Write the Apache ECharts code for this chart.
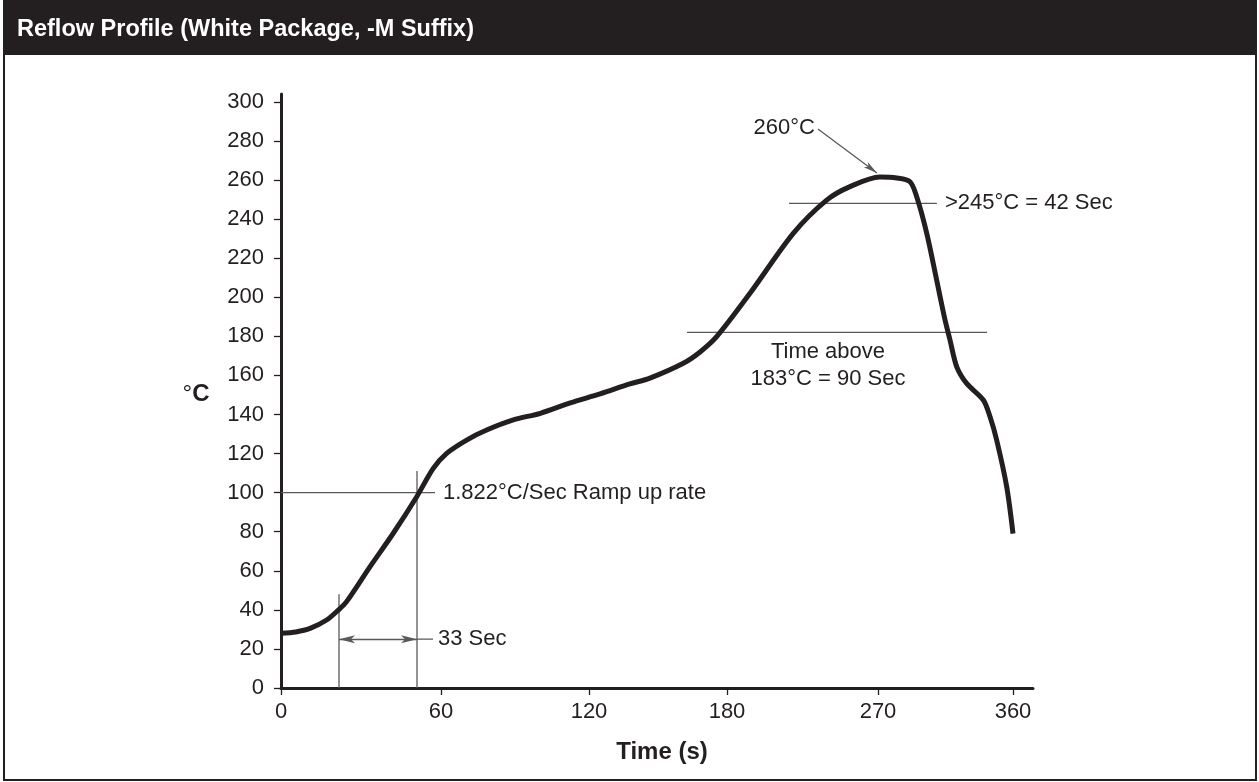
<!DOCTYPE html>
<html><head><meta charset="utf-8">
<script src="https://cdn.jsdelivr.net/npm/echarts@6/dist/echarts.min.js"></script>
<style>html,body{margin:0;padding:0;background:#fff}#c{width:1259px;height:782px}</style>
</head><body><div id="c"></div>
<script>
// ---------- data ----------
const chartTitle = 'Reflow Profile (White Package, -M Suffix)';
const xTickSeconds = [0, 60, 120, 180, 270, 360];
const xTickLabels = ['0', '60', '120', '180', '270', '360'];
const yTickValues = [0, 20, 40, 60, 80, 100, 120, 140, 160, 180, 200, 220, 240, 260, 280, 300];
const timeSec = [0, 5.6, 10.9, 17.1, 21.5, 24.6, 33.4, 42.1, 50.9, 57.1, 62.3, 70.4, 78.5, 89.3, 100.3,
  112.4, 124.8, 137.8, 146.5, 161.0, 168.3, 175.5, 193.7, 219.5, 239.4, 253.3, 271.3, 282.5, 291.3,
  295.8, 302.5, 309.1, 314.7, 318.0, 322.5, 329.1, 340.2, 344.7, 349.1, 355.8, 360];
const tempC = [28, 28.7, 30.5, 34.8, 39.9, 44.2, 62.1, 79.2, 97.9, 112.4, 120.1, 126.9, 132.0, 137.2, 140.6,
  145.9, 150.5, 155.6, 158.6, 166.2, 172.0, 179.8, 202.0, 232.7, 249.7, 256.6, 261.5, 261, 259.1,
  251.4, 232.7, 208.8, 188.3, 178.1, 164.4, 155.9, 147.4, 138.8, 126.9, 103.0, 79];
// annotation values (seconds, °C)
const rampStartSec = 21.75, rampEndSec = 51, rampLevel = 100, rampLineEndSec = 57.75;
const rampLowTop = 48, rampHighTop = 111, spanArrowTemp = 25, spanLineEndSec = 57;
const above183Temp = 182, above183From = 162.6, above183To = 342.7, above183LabelSec = 240.2;
const above245Temp = 248, above245From = 217, above245To = 309.3;
const peakArrowFrom = [234.2, 286.1], peakArrowTo = [269.4, 263.6];
const labelRamp = '1.822°C/Sec Ramp up rate';
const labelSpan = '33 Sec';
const label245 = '>245°C = 42 Sec';
const label183 = 'Time above\n183°C = 90 Sec';
const labelPeak = '260°C';

// ---------- axis layout (hand-drawn, uneven tick spacing) ----------
const tickOffsets = [0, 160, 308, 446, 597, 732];
const axisMaxUnits = 752;
function toAxis(t) {
  const n = xTickSeconds.length;
  let i = 0;
  while (i < n - 2 && t > xTickSeconds[i + 1]) i++;
  const s0 = xTickSeconds[i], s1 = xTickSeconds[i + 1];
  return tickOffsets[i] + (t - s0) / (s1 - s0) * (tickOffsets[i + 1] - tickOffsets[i]);
}

const INK = '#231f20', GREY = '#58595b';
const FONT = '"Liberation Sans", Arial, Helvetica, sans-serif';

function seg(a, b) {
  return {
    type: 'line', silent: true, symbol: 'none', z: 3,
    lineStyle: { width: 1.3, color: GREY },
    data: [[toAxis(a[0]), a[1]], [toAxis(b[0]), b[1]]]
  };
}

const chart = echarts.init(document.getElementById('c'), null, { renderer: 'canvas' });
const option = {
  animation: false,
  backgroundColor: '#fff',
  grid: { left: 281, right: 226, top: 94, bottom: 94 },
  xAxis: {
    type: 'value', min: 0, max: axisMaxUnits,
    splitLine: { show: false },
    axisLine: { lineStyle: { color: INK, width: 3 } },
    axisTick: { customValues: xTickSeconds.map(toAxis), length: 7, lineStyle: { color: INK, width: 1.3 } },
    axisLabel: {
      customValues: xTickSeconds.map(toAxis), margin: 13, fontSize: 22, color: INK, fontFamily: FONT,
      formatter: v => {
        let best = 0;
        tickOffsets.forEach((o, i) => { if (Math.abs(o - v) < Math.abs(tickOffsets[best] - v)) best = i; });
        return xTickLabels[best];
      }
    }
  },
  yAxis: {
    type: 'value', min: 0, max: 304,
    splitLine: { show: false },
    axisLine: { lineStyle: { color: INK, width: 3 } },
    axisTick: { customValues: yTickValues, length: 7, lineStyle: { color: INK, width: 1.3 } },
    axisLabel: { customValues: yTickValues, margin: 17, fontSize: 22, color: INK, fontFamily: FONT }
  },
  series: [
    seg([0, rampLevel], [rampLineEndSec, rampLevel]),
    seg([rampStartSec, 0], [rampStartSec, rampLowTop]),
    seg([rampEndSec, 0], [rampEndSec, rampHighTop]),
    seg([rampEndSec, spanArrowTemp], [spanLineEndSec, spanArrowTemp]),
    seg([above183From, above183Temp], [above183To, above183Temp]),
    seg([above245From, above245Temp], [above245To, above245Temp]),
    {
      type: 'line', data: [], silent: true,
      markLine: {
        silent: true, animation: false, label: { show: false },
        lineStyle: { type: 'solid', color: GREY, width: 1.3 },
        data: [
          [{ coord: [toAxis(rampStartSec), spanArrowTemp], symbol: 'arrow', symbolSize: [6, 16] },
           { coord: [toAxis(rampEndSec), spanArrowTemp], symbol: 'arrow', symbolSize: [6, 16] }],
          [{ coord: [toAxis(peakArrowFrom[0]), peakArrowFrom[1]], symbol: 'none' },
           { coord: [toAxis(peakArrowTo[0]), peakArrowTo[1]], symbol: 'arrow', symbolSize: [5, 14] }]
        ]
      }
    },
    {
      type: 'line', name: 'profile', z: 5, smooth: 0.3, symbol: 'none',
      lineStyle: { width: 5, color: INK, cap: 'butt', join: 'round' },
      data: timeSec.map((t, i) => [toAxis(t), tempC[i]])
    }
  ]
};
chart.setOption(option);

const P = (t, T) => chart.convertToPixel({ gridIndex: 0 }, [toAxis(t), T]);
function txt(pt, text, align, opts) {
  return Object.assign({
    type: 'text', x: pt[0], y: pt[1], z: 10, silent: true,
    style: { text, fill: INK, font: '22px ' + FONT, textAlign: align, textVerticalAlign: 'middle', lineHeight: 27 }
  }, opts || {});
}
const pRamp = P(rampLineEndSec, rampLevel);
const pSpan = P(spanLineEndSec, spanArrowTemp);
const p245 = P(above245To, above245Temp);
const p183 = P(above183LabelSec, above183Temp);
const pPeak = P(peakArrowFrom[0], peakArrowFrom[1]);

chart.setOption({
  graphic: {
    elements: [
      { type: 'rect', shape: { x: 4, y: 1, width: 1252, height: 779 }, style: { fill: 'none', stroke: INK, lineWidth: 2 }, silent: true, z: 1 },
      { type: 'rect', shape: { x: 3, y: 0, width: 1254, height: 55 }, style: { fill: INK }, silent: true, z: 2 },
      { type: 'text', x: 17, y: 30, z: 3, silent: true,
        style: { text: chartTitle, fill: '#fff', font: 'bold 23.5px ' + FONT, textAlign: 'left', textVerticalAlign: 'middle' } },
      { type: 'text', x: 662, y: 752, z: 3, silent: true,
        style: { text: 'Time (s)', fill: INK, font: 'bold 24px ' + FONT, textAlign: 'center', textVerticalAlign: 'middle' } },
      { type: 'text', x: 196, y: 394, z: 3, silent: true,
        style: { text: '{d|°}{c|C}', textAlign: 'center', textVerticalAlign: 'middle',
          rich: { d: { fontSize: 24, fontFamily: FONT, fill: INK, fontWeight: 'normal' }, c: { fontSize: 24, fontFamily: FONT, fill: INK, fontWeight: 'bold' } } } },
      txt([pRamp[0] + 8, pRamp[1]], labelRamp, 'left'),
      txt([pSpan[0] + 5, pSpan[1]], labelSpan, 'left'),
      txt([p245[0] + 8, p245[1]], label245, 'left'),
      txt([p183[0], p183[1] + 33], label183, 'center'),
      txt([pPeak[0] - 3, pPeak[1] - 1], labelPeak, 'right')
    ]
  }
});
</script>
</body></html>
